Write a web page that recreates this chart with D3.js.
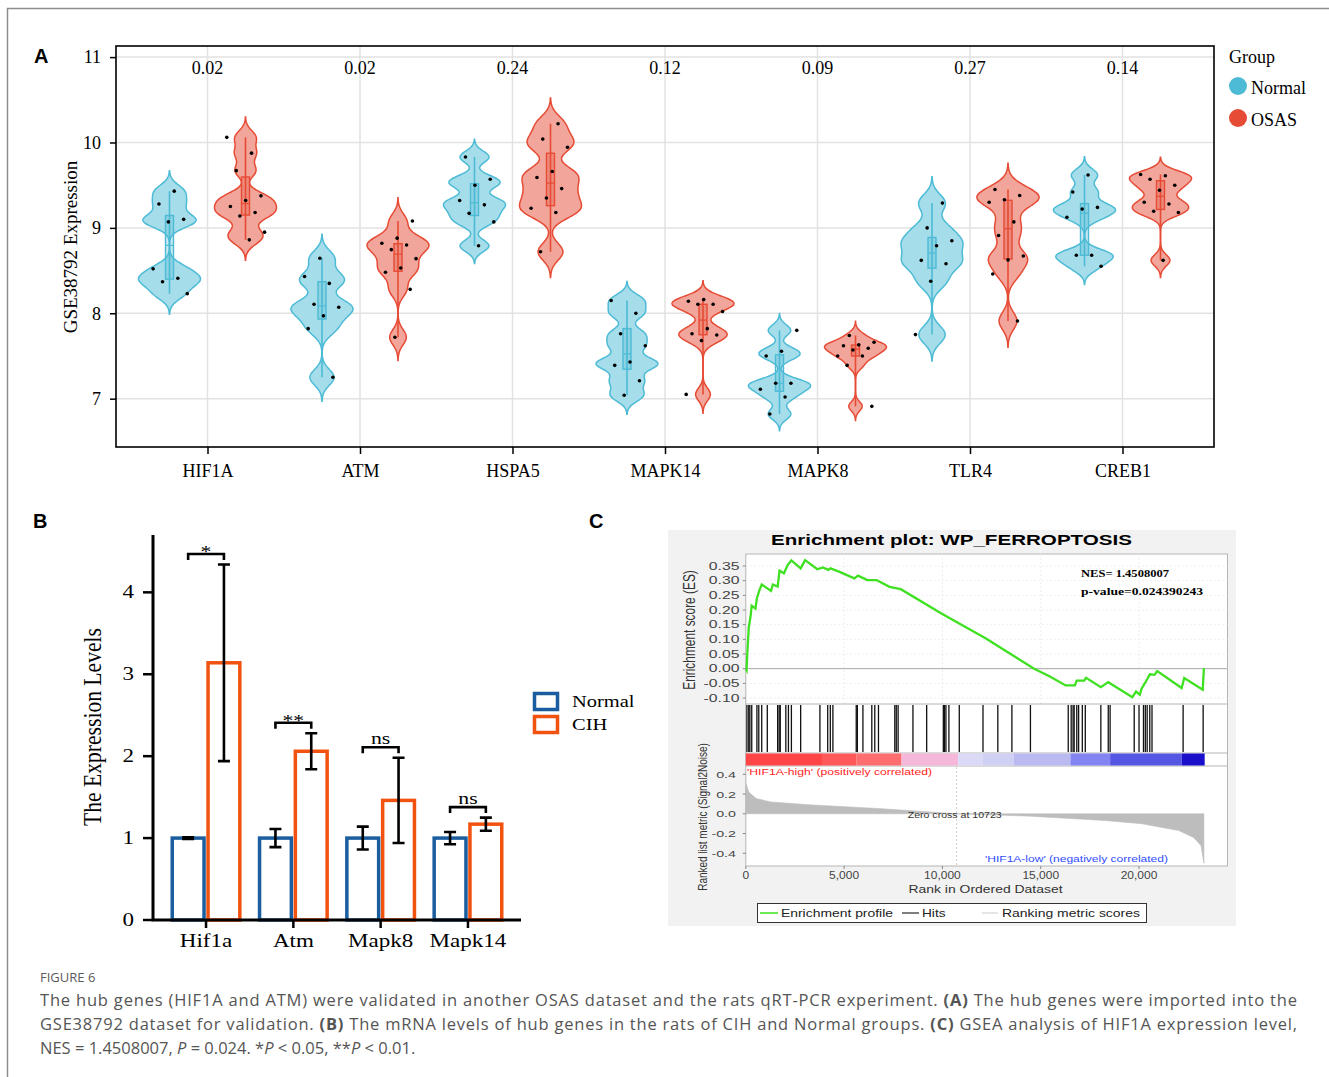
<!DOCTYPE html>
<html>
<head>
<meta charset="utf-8">
<script src="https://cdn.jsdelivr.net/npm/d3@7"></script>
<style>
  body { margin: 0; background: #fff; }
  svg { display: block; }
</style>
</head>
<body>
<div id="chart"></div>
<script>
// ---------- panel A: GSE38792 expression, one value per dot ----------
const genes = ["HIF1A", "ATM", "HSPA5", "MAPK14", "MAPK8", "TLR4", "CREB1"];
const pvals = ["0.02", "0.02", "0.24", "0.12", "0.09", "0.27", "0.14"];
const normalExpr = [
  [9.43, 9.28, 9.10, 9.07, 8.52, 8.41, 8.37, 8.23],
  [8.645, 8.43, 8.35, 8.105, 8.07, 7.97, 7.82, 7.25],
  [9.83, 9.57, 9.50, 9.32, 9.27, 9.17, 9.07, 8.79],
  [8.15, 8.00, 7.76, 7.62, 7.43, 7.39, 7.21, 7.04],
  [7.80, 7.555, 7.50, 7.18, 7.18, 7.11, 7.02, 6.82],
  [9.29, 9.00, 8.85, 8.79, 8.62, 8.58, 8.375, 7.75],
  [9.62, 9.42, 9.24, 9.22, 9.125, 8.68, 8.68, 8.55]
];
const osasExpr = [
  [10.06, 9.875, 9.67, 9.375, 9.32, 9.25, 9.18, 9.14, 8.95, 8.86],
  [9.08, 8.88, 8.82, 8.80, 8.745, 8.64, 8.53, 8.48, 8.28, 7.72],
  [10.22, 10.04, 9.945, 9.66, 9.59, 9.46, 9.35, 9.23, 9.18, 8.72],
  [8.16, 8.14, 8.105, 8.105, 8.02, 7.82, 7.76, 7.745, 7.68, 7.05],
  [7.74, 7.66, 7.63, 7.62, 7.59, 7.57, 7.50, 7.50, 7.39, 6.91],
  [9.45, 9.38, 9.33, 9.30, 9.07, 8.91, 8.67, 8.625, 8.46, 7.91],
  [9.625, 9.61, 9.57, 9.50, 9.44, 9.30, 9.28, 9.195, 9.18, 8.62]
];
const yTicksA = [7, 8, 9, 10, 11];

// ---------- panel B: qRT-PCR ----------
const bGenes = ["Hif1a", "Atm", "Mapk8", "Mapk14"];
const normalMean = [1, 1, 1, 1];
const normalErr = [0.01, 0.11, 0.14, 0.075];
const cihMean = [3.14, 2.06, 1.46, 1.17];
const cihErr = [1.2, 0.22, 0.52, 0.08];
const sigLabels = ["*", "**", "ns", "ns"];
const yTicksB = [0, 1, 2, 3, 4];

// ---------- panel C: GSEA ----------
const esRank = [0, 40, 80, 150, 245, 300, 490, 565, 680, 810, 1280, 1375, 1620, 1715, 1940, 2130, 2320,
  2790, 3015, 3640, 3920, 4200, 4300, 4770, 5520, 5710, 6180, 6650, 7310, 7880, 9950, 12215, 14665,
  15420, 16270, 16740, 16830, 17210, 17305, 18060, 18435, 19660, 19850, 20040, 20130, 20415, 20550,
  20790, 20925, 22170, 22300, 23240, 23300];
const esValue = [0, -0.005, 0.057, 0.14, 0.18, 0.215, 0.205, 0.24, 0.265, 0.287, 0.265, 0.287, 0.28,
  0.334, 0.325, 0.353, 0.369, 0.342, 0.37, 0.339, 0.345, 0.337, 0.342, 0.33, 0.308, 0.317, 0.302,
  0.302, 0.279, 0.271, 0.188, 0.103, 0, -0.025, -0.057, -0.057, -0.041, -0.041, -0.031, -0.063,
  -0.046, -0.097, -0.078, -0.089, -0.068, -0.036, -0.019, -0.021, -0.008, -0.066, -0.032, -0.072, 0.002];
const hitRanks = [57, 150, 207, 302, 565, 660, 810, 1093, 1620, 1697, 1753, 2036, 2168, 2319, 2790,
  3770, 4166, 4298, 4430, 5617, 5674, 5957, 6409, 6560, 6748, 7578, 7653, 7747, 8501, 9199, 10047,
  10104, 10179, 10330, 10858, 12064, 12818, 13534, 14477, 16400, 16550, 16645, 16701, 16833, 16927,
  17116, 17267, 18058, 18435, 18530, 19755, 20000, 20226, 20320, 20415, 20547, 20660, 22243, 23261];
const metricRank = [0, 150, 530, 1280, 3170, 6940, 10723, 14480, 18250, 20130, 22020, 22770, 23150, 23300];
const metricValue = [0.31, 0.22, 0.154, 0.12, 0.092, 0.051, 0, -0.024, -0.068, -0.1, -0.17, -0.24, -0.32, -0.5];
const zeroCross = 10723;
const colorBarEnd = [3920, 5620, 7920, 10800, 12030, 13630, 16510, 18530, 22170, 23340];
const colorBarFill = ["#ff4545", "#ff5858", "#ff6e6e", "#f5b8da", "#dadaf7", "#d0d0f5", "#babaf1",
  "#8383f4", "#5656e4", "#1a10cc"];
const esTicks = [-0.10, -0.05, 0, 0.05, 0.10, 0.15, 0.20, 0.25, 0.30, 0.35];
const metricTicks = [-0.4, -0.2, 0, 0.2, 0.4];
const rankTicks = [0, 5000, 10000, 15000, 20000];

const W = 1329, H = 1077;
const serif = "'Liberation Serif', 'Times New Roman', serif";
const sans = "'Liberation Sans', Arial, sans-serif";

const svg = d3.select("#chart").append("svg")
  .attr("width", W).attr("height", H);

// text helper: sx stretches glyphs horizontally, len forces a width
function txt(g, x, y, s, o = {}) {
  let tr = `translate(${x},${y})`;
  if (o.sx) tr += ` scale(${o.sx},1)`;
  if (o.rot) tr += ` rotate(${o.rot})`;
  const t = g.append("text").attr("transform", tr)
    .attr("font-family", o.font || serif)
    .attr("font-size", o.size || 18)
    .attr("text-anchor", o.anchor || "start")
    .attr("fill", o.fill || "#000")
    .text(s);
  if (o.weight) t.attr("font-weight", o.weight);
  if (o.len) t.attr("textLength", o.len).attr("lengthAdjust", "spacingAndGlyphs");
  return t;
}

// page frame
svg.append("path").attr("d", `M7.5,${H} V8.5 H${W}`)
  .attr("fill", "none").attr("stroke", "#8e8e8e").attr("stroke-width", 1.5);

// panel letters
[["A", 34, 63], ["B", 33, 528], ["C", 589, 528]].forEach(([l, x, y]) =>
  txt(svg, x, y, l, { font: sans, size: 20, weight: "bold" }));

// =================== panel A ===================
const gA = svg.append("g");
const yA = d3.scaleLinear([6.434, 11.13], [447, 46]);
const xA = d3.scalePoint(genes, [116, 1214]).padding(0.6);
const groups = [
  { name: "Normal", data: normalExpr, off: -38, stroke: "#4DBBD5", fill: "#A6DDEA" },
  { name: "OSAS", data: osasExpr, off: 38, stroke: "#E64B35", fill: "#F2A59A" }
];

// grid
gA.selectAll(".hgrid").data(yTicksA).join("line")
  .attr("x1", 116).attr("x2", 1214)
  .attr("y1", d => yA(d)).attr("y2", d => yA(d))
  .attr("stroke", "#e2e2e2").attr("stroke-width", 1.5);
gA.selectAll(".vgrid").data(genes).join("line")
  .attr("x1", d => xA(d)).attr("x2", d => xA(d))
  .attr("y1", 46).attr("y2", 447)
  .attr("stroke", "#e2e2e2").attr("stroke-width", 1.5);

// violins (gaussian kde, width-scaled like geom_violin(scale = "width"))
groups.forEach((grp, gi) => {
  grp.data.forEach((vals, i) => {
    const cx = xA(genes[i]) + grp.off;
    const ext = d3.extent(vals);
    const bw = (ext[1] - ext[0]) / 15;
    const lo = ext[0] - 3 * bw, hi = ext[1] + 3 * bw;
    const grid = d3.range(101).map(k => lo + k * (hi - lo) / 100);
    const dens = grid.map(v => [v, d3.sum(vals, x => Math.exp(-0.5 * ((v - x) / bw) ** 2))]);
    const w = d3.scaleLinear([0, d3.max(dens, d => d[1])], [0, 31]);
    const area = d3.area()
      .y(d => yA(d[0]))
      .x0(d => cx - w(d[1])).x1(d => cx + w(d[1]))
      .curve(d3.curveCatmullRom);
    gA.append("path").attr("d", area(dens))
      .attr("fill", grp.fill).attr("stroke", grp.stroke).attr("stroke-width", 1.5);

    const s = vals.slice().sort(d3.ascending);
    const q1 = d3.quantileSorted(s, 0.25), med = d3.quantileSorted(s, 0.5), q3 = d3.quantileSorted(s, 0.75);
    gA.append("line").attr("x1", cx).attr("x2", cx)
      .attr("y1", yA(s[0])).attr("y2", yA(s[s.length - 1]))
      .attr("stroke", grp.stroke).attr("stroke-width", 1.6);
    gA.append("rect").attr("x", cx - 4).attr("width", 8)
      .attr("y", yA(q3)).attr("height", yA(q1) - yA(q3))
      .attr("fill", grp.stroke).attr("fill-opacity", 0.3)
      .attr("stroke", grp.stroke).attr("stroke-width", 1.4);
    gA.append("line").attr("x1", cx - 4).attr("x2", cx + 4)
      .attr("y1", yA(med)).attr("y2", yA(med))
      .attr("stroke", grp.stroke).attr("stroke-width", 1.2);

    // jittered dots (deterministic spread)
    gA.selectAll(null).data(vals).join("circle")
      .attr("cx", (d, k) => cx + (((k + 1) * 0.6180339887 + (i * 2 + gi) * 0.4142) % 1 - 0.5) * 40)
      .attr("cy", d => yA(d))
      .attr("r", 1.8).attr("fill", "#000");
  });
});

// frame and axes
gA.append("rect").attr("x", 116).attr("y", 46).attr("width", 1098).attr("height", 401)
  .attr("fill", "none").attr("stroke", "#000").attr("stroke-width", 1.6);
const axLA = gA.append("g").attr("transform", "translate(116,0)")
  .call(d3.axisLeft(yA).tickValues(yTicksA).tickFormat(d3.format("d")).tickSize(6).tickPadding(9));
const axBA = gA.append("g").attr("transform", "translate(0,447)")
  .call(d3.axisBottom(xA).tickSize(7).tickPadding(10));
[axLA, axBA].forEach(a => {
  a.select(".domain").remove();
  a.selectAll("line").attr("stroke", "#000").attr("stroke-width", 1.5);
  a.selectAll("text").attr("font-family", serif).attr("font-size", 18).attr("fill", "#000");
});
genes.forEach((gname, i) => txt(gA, xA(gname), 74, pvals[i], { anchor: "middle" }));
txt(gA, 77, 247, "GSE38792 Expression", { rot: -90, anchor: "middle", size: 19 });

// legend
txt(gA, 1229, 63, "Group");
groups.forEach((grp, i) => {
  gA.append("circle").attr("cx", 1238).attr("cy", 86 + i * 32).attr("r", 9).attr("fill", grp.stroke);
  txt(gA, 1251, 94 + i * 32, grp.name);
});

// =================== panel B ===================
const gB = svg.append("g");
const sxB = 1.28;
const yB = d3.scaleLinear([0, 4.7], [920, 535]);
const xB = d3.scaleBand(bGenes, [153, 521]).paddingInner(0.18).paddingOuter(0.1975);
const xSub = d3.scaleBand(["Normal", "CIH"], [0, xB.bandwidth()]);
const bSeries = [
  { name: "Normal", mean: normalMean, err: normalErr, color: "#1b5e9f" },
  { name: "CIH", mean: cihMean, err: cihErr, color: "#f2520f" }
];

bSeries.forEach(s => {
  gB.selectAll(null).data(bGenes).join("rect")
    .attr("x", d => xB(d) + xSub(s.name) + 2)
    .attr("width", xSub.bandwidth() - 4)
    .attr("y", (d, i) => yB(s.mean[i]))
    .attr("height", (d, i) => yB(0) - yB(s.mean[i]))
    .attr("fill", "#fff").attr("stroke", s.color).attr("stroke-width", 3.5);
});
bSeries.forEach(s => {
  bGenes.forEach((d, i) => {
    const cx = xB(d) + xSub(s.name) + xSub.bandwidth() / 2;
    const t = yB(s.mean[i] + s.err[i]), b = yB(s.mean[i] - s.err[i]);
    gB.append("path")
      .attr("d", `M${cx},${t}V${b}M${cx - 6},${t}H${cx + 6}M${cx - 6},${b}H${cx + 6}`)
      .attr("fill", "none").attr("stroke", "#000").attr("stroke-width", 2.6);
  });
});
// significance brackets
bGenes.forEach((d, i) => {
  const x1 = xB(d) + xSub("Normal") + xSub.bandwidth() / 2;
  const x2 = xB(d) + xSub("CIH") + xSub.bandwidth() / 2;
  const by = yB(cihMean[i] + cihErr[i]) - 10.5;
  gB.append("path").attr("d", `M${x1},${by + 6}V${by}H${x2}V${by + 6}`)
    .attr("fill", "none").attr("stroke", "#000").attr("stroke-width", 2.6);
  const star = sigLabels[i].startsWith("*");
  txt(gB, (x1 + x2) / 2, by + (star ? 3 : -3), sigLabels[i], { anchor: "middle", size: 17, sx: sxB });
});

// axes
gB.append("path").attr("d", "M153,535V920H521").attr("fill", "none")
  .attr("stroke", "#000").attr("stroke-width", 3);
gB.selectAll(".ytick").data(yTicksB).join("line")
  .attr("x1", 143).attr("x2", 153).attr("y1", d => yB(d)).attr("y2", d => yB(d))
  .attr("stroke", "#000").attr("stroke-width", 2.5);
yTicksB.forEach(v => txt(gB, 134, yB(v) + 6, String(v), { anchor: "end", size: 18, sx: sxB }));
gB.selectAll(".xtick").data(bGenes).join("line")
  .attr("x1", d => xB(d) + xB.bandwidth() / 2).attr("x2", d => xB(d) + xB.bandwidth() / 2)
  .attr("y1", 920).attr("y2", 928)
  .attr("stroke", "#000").attr("stroke-width", 2.5);
bGenes.forEach(d => txt(gB, xB(d) + xB.bandwidth() / 2, 947, d, { anchor: "middle", size: 18, sx: sxB }));
txt(gB, 101, 727, "The Expression Levels", { rot: -90, anchor: "middle", size: 21.6, sx: 1.2 });

// legend
bSeries.forEach((s, i) => {
  gB.append("rect").attr("x", 534.5).attr("y", 693.5 + i * 23).attr("width", 23).attr("height", 16)
    .attr("fill", "none").attr("stroke", s.color).attr("stroke-width", 3.5);
  txt(gB, 572, 707 + i * 23, s.name, { size: 16, sx: sxB });
});

// =================== panel C ===================
const gC = svg.append("g");
gC.append("rect").attr("x", 668).attr("y", 530).attr("width", 568).attr("height", 396).attr("fill", "#f2f2f2");
const pL = 745.8, pR = 1227.5;
const xC = d3.scaleLinear([0, 24500], [pL, pR]);
const yES = d3.scaleLinear([-0.10, 0.35], [698, 566]);
const yM = d3.scaleLinear([-0.4, 0.4], [853.3, 774.3]);

gC.append("rect").attr("x", pL).attr("y", 554).attr("width", pR - pL).attr("height", 312)
  .attr("fill", "#fff").attr("stroke", "#b5b5b5").attr("stroke-width", 1);

// faint grid in ES plot
gC.selectAll(".esg").data(esTicks).join("line")
  .attr("x1", pL).attr("x2", pR).attr("y1", d => yES(d)).attr("y2", d => yES(d))
  .attr("stroke", "#eeeeee").attr("stroke-dasharray", "2,2");
gC.selectAll(".rkg").data(rankTicks.slice(1)).join("line")
  .attr("x1", d => xC(d)).attr("x2", d => xC(d)).attr("y1", 554).attr("y2", 704)
  .attr("stroke", "#eeeeee").attr("stroke-dasharray", "2,2");
gC.append("line").attr("x1", pL).attr("x2", pR).attr("y1", yES(0)).attr("y2", yES(0))
  .attr("stroke", "#a8a8a8").attr("stroke-width", 1);

// enrichment profile
gC.append("path").datum(d3.zip(esRank, esValue))
  .attr("d", d3.line().x(d => xC(d[0])).y(d => yES(d[1])))
  .attr("fill", "none").attr("stroke", "#3fe021").attr("stroke-width", 2.3);

// section separators
[704, 753, 766].forEach(y => gC.append("line").attr("x1", pL).attr("x2", pR)
  .attr("y1", y).attr("y2", y).attr("stroke", "#b5b5b5"));

// hits
gC.selectAll(".hit").data(hitRanks).join("line")
  .attr("x1", d => xC(d)).attr("x2", d => xC(d)).attr("y1", 705).attr("y2", 752)
  .attr("stroke", "#111").attr("stroke-width", 1.3);

// ranked-metric colour bar
colorBarEnd.forEach((e, i) => {
  const s = i === 0 ? 0 : colorBarEnd[i - 1];
  gC.append("rect").attr("x", xC(s)).attr("width", xC(e) - xC(s))
    .attr("y", 753.5).attr("height", 12).attr("fill", colorBarFill[i]);
});

// ranked list metric
gC.append("path").datum(d3.zip(metricRank, metricValue))
  .attr("d", d3.area().x(d => xC(d[0])).y0(yM(0)).y1(d => yM(d[1])))
  .attr("fill", "#bdbdbd").attr("stroke", "#bdbdbd").attr("stroke-width", 0.6);
gC.append("line").attr("x1", xC(zeroCross)).attr("x2", xC(zeroCross)).attr("y1", 767).attr("y2", 865)
  .attr("stroke", "#cfcfcf").attr("stroke-dasharray", "2,2");
txt(gC, 907.7, 818, "Zero cross at " + zeroCross, { font: sans, size: 8.5, len: 94, fill: "#333" });
txt(gC, 747, 774.5, "'HIF1A-high' (positively correlated)", { font: sans, size: 8.5, len: 185, fill: "#ff2424" });
txt(gC, 985, 861.5, "'HIF1A-low' (negatively correlated)", { font: sans, size: 8.5, len: 183, fill: "#2f4dff" });

// axes labels
esTicks.forEach(v => {
  gC.append("line").attr("x1", pL - 3).attr("x2", pL).attr("y1", yES(v)).attr("y2", yES(v)).attr("stroke", "#888");
  txt(gC, 739.5, yES(v) + 3.8, d3.format(".2f")(v).replace("−", "-"),
    { font: sans, size: 10.5, sx: 1.5, anchor: "end", fill: "#444" });
});
metricTicks.forEach(v => {
  gC.append("line").attr("x1", pL - 3).attr("x2", pL).attr("y1", yM(v)).attr("y2", yM(v)).attr("stroke", "#888");
  txt(gC, 736, yM(v) + 3.5, d3.format(".1f")(v).replace("−", "-"),
    { font: sans, size: 9.5, sx: 1.5, anchor: "end", fill: "#444" });
});
rankTicks.forEach(v => {
  gC.append("line").attr("x1", xC(v)).attr("x2", xC(v)).attr("y1", 866).attr("y2", 869).attr("stroke", "#888");
  txt(gC, xC(v), 878.5, d3.format(",")(v), { font: sans, size: 10, sx: 1.2, anchor: "middle", fill: "#444" });
});
txt(gC, 985.5, 893, "Rank in Ordered Dataset", { font: sans, size: 11, len: 154, anchor: "middle", fill: "#333" });
txt(gC, 695, 630, "Enrichment score (ES)", { font: sans, size: 11.9, sx: 1.35, rot: -90, anchor: "middle", fill: "#333" });
txt(gC, 707, 817, "Ranked list metric (Signal2Noise)", { font: sans, size: 10, sx: 1.35, rot: -90, anchor: "middle", fill: "#333" });

// title and stats
txt(gC, 771, 545, "Enrichment plot: WP_FERROPTOSIS", { font: sans, size: 14.5, weight: "bold", len: 361 });
txt(gC, 1081, 577, "NES=  1.4508007", { size: 11, weight: "bold", len: 88 });
txt(gC, 1081, 595, "p-value=0.024390243", { size: 11, weight: "bold", len: 122 });

// legend
gC.append("rect").attr("x", 757.5).attr("y", 903.5).attr("width", 389).attr("height", 19)
  .attr("fill", "#fff").attr("stroke", "#333");
[[760, 778, "#3fe021", 781, "Enrichment profile", 112],
 [902, 919, "#555", 922, "Hits", 23.5],
 [982, 998, "#dcdcdc", 1002, "Ranking metric scores", 138]].forEach(([a, b, c, tx, label, len]) => {
  gC.append("line").attr("x1", a).attr("x2", b).attr("y1", 913).attr("y2", 913)
    .attr("stroke", c).attr("stroke-width", 1.5);
  txt(gC, tx, 917, label, { font: sans, size: 11, len: len, fill: "#222" });
});

// =================== caption ===================
const capFont = "'Open Sans', Lato, sans-serif";
txt(svg, 40, 982, "FIGURE 6", { font: capFont, size: 13, fill: "#5a5a5a" });
const capLines = [
  [["The hub genes (HIF1A and ATM) were validated in another OSAS dataset and the rats qRT-PCR experiment. ", ""],
   ["(A)", "b"], [" The hub genes were imported into the", ""]],
  [["GSE38792 dataset for validation. ", ""], ["(B)", "b"],
   [" The mRNA levels of hub genes in the rats of CIH and Normal groups. ", ""], ["(C)", "b"],
   [" GSEA analysis of HIF1A expression level,", ""]],
  [["NES = 1.4508007, ", ""], ["P", "i"], [" = 0.024. *", ""], ["P", "i"], [" < 0.05, **", ""],
   ["P", "i"], [" < 0.01.", ""]]
];
capLines.forEach((parts, li) => {
  const t = svg.append("text").attr("x", 40).attr("y", 1006 + li * 24)
    .attr("font-family", capFont).attr("font-size", 16.5).attr("fill", "#555");
  parts.forEach(([s, st]) => {
    const sp = t.append("tspan").text(s);
    if (st === "b") sp.attr("font-weight", "bold");
    if (st === "i") sp.attr("font-style", "italic");
  });
  if (li < 2) t.attr("textLength", 1257).attr("lengthAdjust", "spacing");
});
</script>
</body>
</html>
